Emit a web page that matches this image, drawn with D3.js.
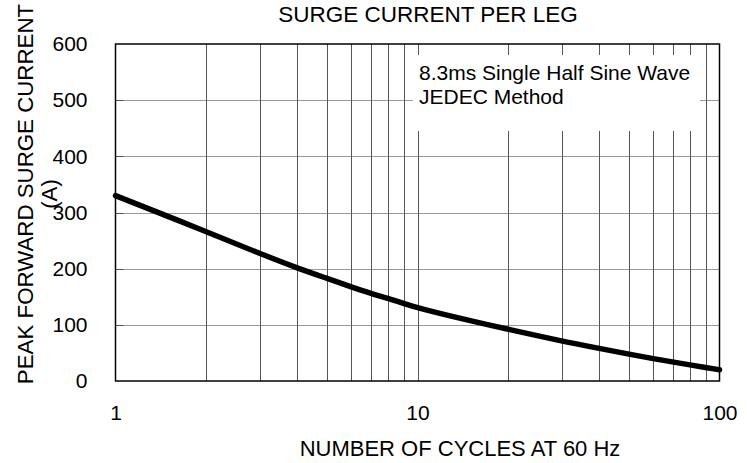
<!DOCTYPE html>
<html>
<head>
<meta charset="utf-8">
<script src="https://cdn.jsdelivr.net/npm/d3@7"></script>
<style>
  body { margin: 0; background: #fff; }
  svg { display: block; font-family: Arial, "Liberation Sans", sans-serif; }
</style>
</head>
<body>
<svg width="747" height="463"></svg>
<script>
// surge current vs number of cycles
const cycles  = [1, 2, 3, 4, 5, 6, 7, 8, 9, 10, 15, 20, 30, 40, 50, 60, 70, 80, 90, 100];
const current = [330, 266, 227, 201, 183, 168, 156, 147, 138, 130, 107, 92, 71, 58, 48, 40, 34, 28.5, 24, 20];
const yTicks = [0, 100, 200, 300, 400, 500, 600];
const xTicks = [1, 10, 100];
const gridX = [2, 3, 4, 5, 6, 7, 8, 9, 10, 20, 30, 40, 50, 60, 70, 80, 90];
const titleText = "SURGE CURRENT PER LEG";
const xLabel = "NUMBER OF CYCLES AT 60 Hz";
const yLabel = ["PEAK FORWARD SURGE CURRENT", "(A)"];
const noteLines = ["8.3ms Single Half Sine Wave", "JEDEC Method"];

const plotLeft = 115.5, plotRight = 719.5, plotTop = 44, plotBottom = 381;
const fontSize = 21;

var svg = d3.select("svg");

var x = d3.scaleLog().domain([1, 100]).range([plotLeft, plotRight]);
var y = d3.scaleLinear().domain([0, 600]).range([plotBottom, plotTop]);

// horizontal grid
var gy = svg.append("g").attr("class", "grid-y");
gy.selectAll("line.g").data(yTicks.slice(1, -1)).enter().append("line")
  .attr("x1", plotLeft).attr("x2", plotRight)
  .attr("y1", d => Math.round(y(d)) + 0.5).attr("y2", d => Math.round(y(d)) + 0.5)
  .attr("stroke", "#999").attr("stroke-width", 1);
// short dark ticks at the left edge
gy.selectAll("line.t").data(yTicks.slice(1, -1)).enter().append("line")
  .attr("x1", plotLeft).attr("x2", plotLeft + 8)
  .attr("y1", d => Math.round(y(d)) + 0.5).attr("y2", d => Math.round(y(d)) + 0.5)
  .attr("stroke", "#555").attr("stroke-width", 1);

// vertical grid
svg.append("g").attr("class", "grid-x")
  .selectAll("line").data(gridX).enter().append("line")
  .attr("x1", d => Math.round(x(d)) + 0.5).attr("x2", d => Math.round(x(d)) + 0.5)
  .attr("y1", plotTop).attr("y2", plotBottom)
  .attr("stroke", "#555").attr("stroke-width", 1);

// note box hides the grid behind the text
svg.append("rect")
  .attr("x", 413).attr("y", 55).attr("width", 287).attr("height", 76)
  .attr("fill", "#fff");
svg.append("g").selectAll("text").data(noteLines).enter().append("text")
  .attr("x", 419).attr("y", (d, i) => 80 + i * 24)
  .attr("font-size", fontSize).attr("fill", "#000")
  .text(d => d);

// frame
svg.append("rect")
  .attr("x", plotLeft).attr("y", plotTop).attr("width", plotRight - plotLeft).attr("height", plotBottom - plotTop)
  .attr("fill", "none").attr("stroke", "#000").attr("stroke-width", 1.5);

// curve
var line = d3.line()
  .x((d, i) => x(cycles[i]))
  .y(d => y(d))
  .curve(d3.curveBasis);
svg.append("path")
  .datum(current)
  .attr("d", line)
  .attr("fill", "none")
  .attr("stroke", "#000")
  .attr("stroke-width", 5.5)
  .attr("stroke-linecap", "round");

// y axis labels
var yAxis = d3.axisLeft(y).tickValues(yTicks).tickSize(0).tickPadding(28).tickFormat(d3.format("d"));
var ya = svg.append("g").attr("transform", "translate(" + plotLeft + ",0)").call(yAxis);
ya.select(".domain").remove();
ya.selectAll("text").attr("font-size", fontSize).attr("font-family", null).attr("fill", "#000");

// x axis labels
var xAxis = d3.axisBottom(x).tickValues(xTicks).tickSize(0).tickPadding(24).tickFormat(d3.format("d"));
var xa = svg.append("g").attr("transform", "translate(0," + plotBottom + ")").call(xAxis);
xa.select(".domain").remove();
xa.selectAll("text").attr("font-size", fontSize).attr("font-family", null).attr("fill", "#000");

// titles
svg.append("text")
  .attr("x", 428).attr("y", 22)
  .attr("text-anchor", "middle").attr("font-size", 22.5)
  .text(titleText);

svg.append("text")
  .attr("x", 460).attr("y", 456)
  .attr("text-anchor", "middle").attr("font-size", 22)
  .text(xLabel);

var yl = svg.append("text")
  .attr("transform", "translate(33,194) rotate(-90)")
  .attr("text-anchor", "middle").attr("font-size", 22.3);
yl.selectAll("tspan").data(yLabel).enter().append("tspan")
  .attr("x", 0).attr("dy", (d, i) => i === 0 ? 0 : 24)
  .text(d => d);
</script>
</body>
</html>
